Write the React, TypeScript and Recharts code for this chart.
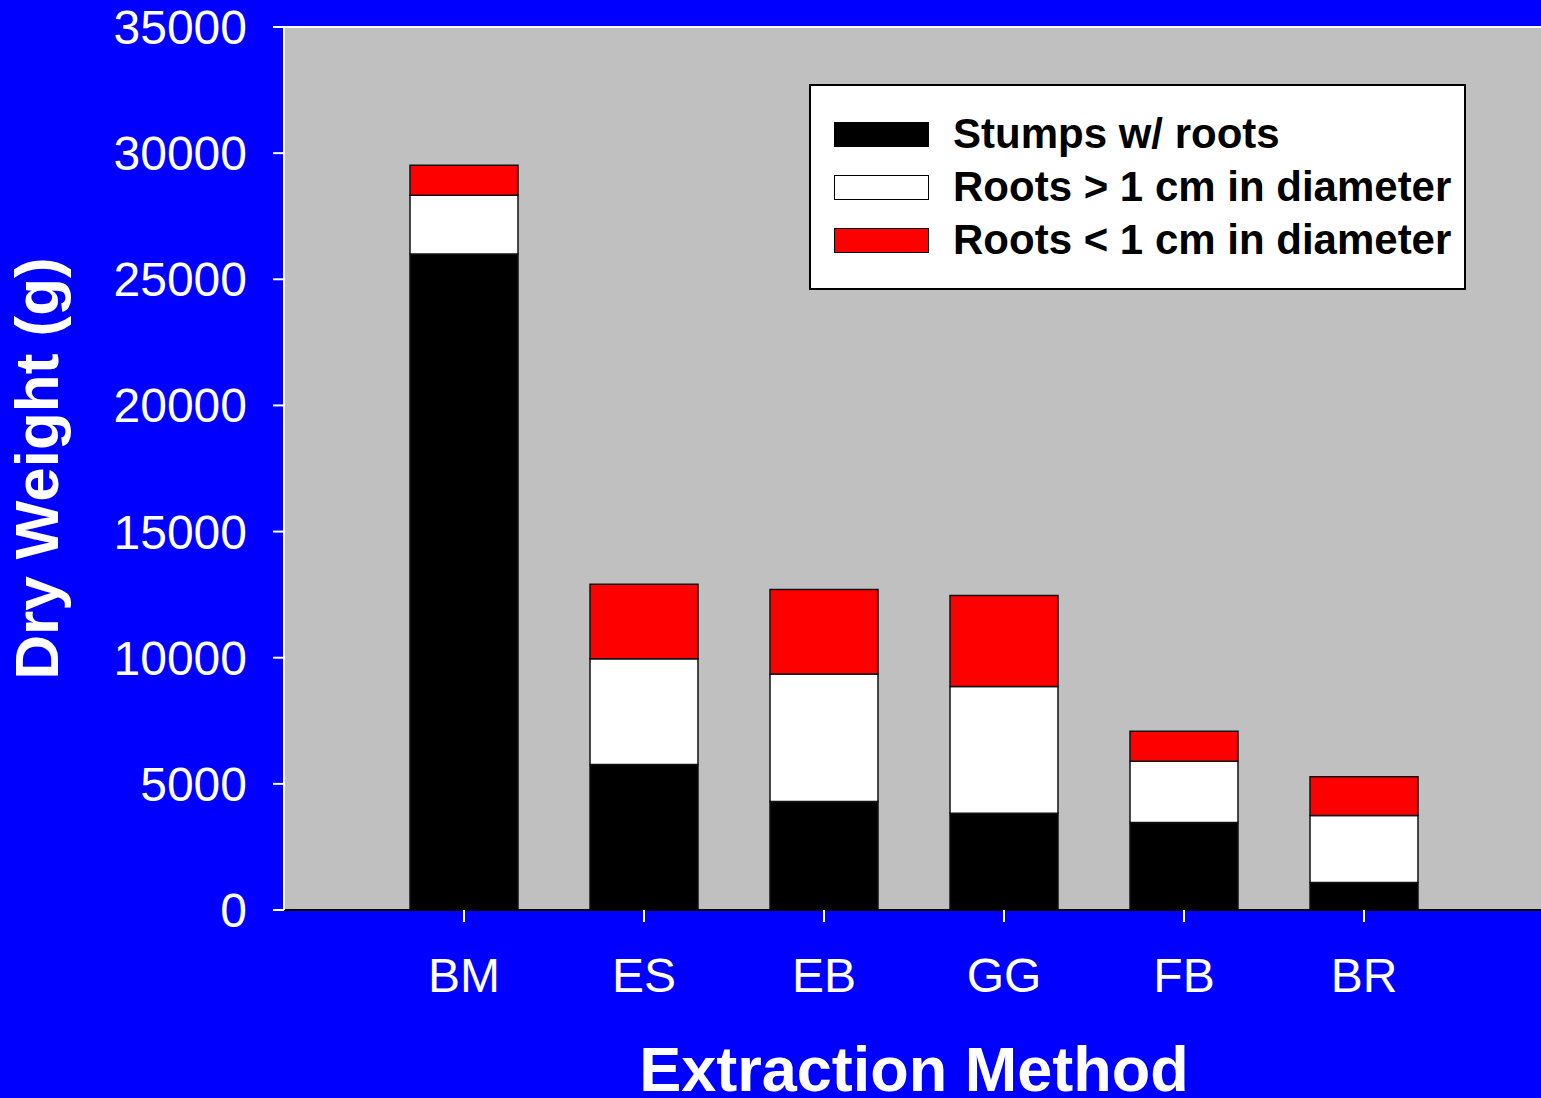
import React from "react";
import { BarChart, Bar, XAxis, YAxis, CartesianGrid, ReferenceLine } from "recharts";

// Extraction methods along the x axis
const methods = ["BM", "ES", "EB", "GG", "FB", "BR"];

// Dry weight (g) of each biomass component, stacked per method
const stumpsWithRoots = [26000, 5770, 4300, 3830, 3470, 1090];
const rootsOver1cm = [2330, 4190, 5050, 5030, 2430, 2660];
const rootsUnder1cm = [1190, 2950, 3350, 3610, 1190, 1535];

const yTicks = [0, 5000, 10000, 15000, 20000, 25000, 30000, 35000];

const seriesNames = [
  "Stumps w/ roots",
  "Roots > 1 cm in diameter",
  "Roots < 1 cm in diameter",
];
const seriesColors = ["#000000", "#FFFFFF", "#FF0000"];

const data = methods.map((m, i) => ({
  name: m,
  stumps: stumpsWithRoots[i],
  big: rootsOver1cm[i],
  small: rootsUnder1cm[i],
}));

const FONT = "'Liberation Sans', Arial, Helvetica, sans-serif";

function LegendBox() {
  return (
    <div
      style={{
        position: "absolute",
        left: 809,
        top: 84,
        width: 657,
        height: 206,
        boxSizing: "border-box",
        background: "#fff",
        border: "2px solid #000",
        fontFamily: FONT,
      }}
    >
      {seriesNames.map((name, i) => (
        <div
          key={name}
          style={{
            position: "absolute",
            left: 0,
            top: 22 + i * 53,
            height: 52,
            display: "flex",
            alignItems: "center",
          }}
        >
          <div
            style={{
              marginLeft: 23,
              width: 95,
              height: 25,
              boxSizing: "border-box",
              background: seriesColors[i],
              border: "1.5px solid #000",
            }}
          />
          <div
            style={{
              marginLeft: 24,
              fontSize: 42,
              fontWeight: 700,
              color: "#000",
              whiteSpace: "nowrap",
              lineHeight: "52px",
            }}
          >
            {name}
          </div>
        </div>
      ))}
    </div>
  );
}

function YTitle(props: any) {
  const vb = props.viewBox || {};
  const cy = vb.y + vb.height / 2;
  const x = 58;
  return (
    <text
      x={x}
      y={cy}
      transform={`rotate(-90 ${x} ${cy})`}
      textAnchor="middle"
      fill="#fff"
      fontFamily={FONT}
      fontWeight={700}
      fontSize={62}
    >
      Dry Weight (g)
    </text>
  );
}

export default function App() {
  return (
    <div
      style={{
        position: "absolute",
        left: 0,
        top: 0,
        width: 1541,
        height: 1098,
        overflow: "hidden",
        background: "#0000FF",
      }}
    >
      <BarChart
        width={1545}
        height={1098}
        data={data}
        margin={{ top: 27, right: 1, left: 0, bottom: 0 }}
        barCategoryGap={0}
      >
        <CartesianGrid fill="#C0C0C0" horizontal={false} vertical={false} />
        <XAxis
          dataKey="name"
          type="category"
          height={188}
          padding={{ left: 90, right: 90 }}
          axisLine={{ stroke: "#000", strokeWidth: 2 }}
          tickLine={{ stroke: "#fff", strokeWidth: 2 }}
          tickSize={12}
          tickMargin={36}
          tick={{ fill: "#fff", fontSize: 48, fontFamily: FONT }}
          label={{
            value: "Extraction Method",
            position: "insideBottom",
            offset: 7,
            fill: "#fff",
            fontSize: 63,
            fontWeight: 700,
            fontFamily: FONT,
          }}
        />
        <YAxis
          width={284}
          domain={[0, 35000]}
          ticks={yTicks}
          interval={0}
          allowDataOverflow
          axisLine={{ stroke: "#fff", strokeWidth: 2 }}
          tickLine={{ stroke: "#fff", strokeWidth: 2 }}
          tickSize={11}
          tickMargin={26}
          tick={{ fill: "#fff", fontSize: 48, fontFamily: FONT }}
          label={{ content: <YTitle /> }}
        />
        <ReferenceLine y={35000} stroke="#fff" strokeWidth={2} />
        <Bar
          dataKey="stumps"
          name={seriesNames[0]}
          stackId="a"
          fill={seriesColors[0]}
          stroke="#111"
          strokeWidth={1.5}
          barSize={108}
          isAnimationActive={false}
        />
        <Bar
          dataKey="big"
          name={seriesNames[1]}
          stackId="a"
          fill={seriesColors[1]}
          stroke="#111"
          strokeWidth={1.5}
          barSize={108}
          isAnimationActive={false}
        />
        <Bar
          dataKey="small"
          name={seriesNames[2]}
          stackId="a"
          fill={seriesColors[2]}
          stroke="#111"
          strokeWidth={1.5}
          barSize={108}
          isAnimationActive={false}
        />
      </BarChart>
      <LegendBox />
    </div>
  );
}
